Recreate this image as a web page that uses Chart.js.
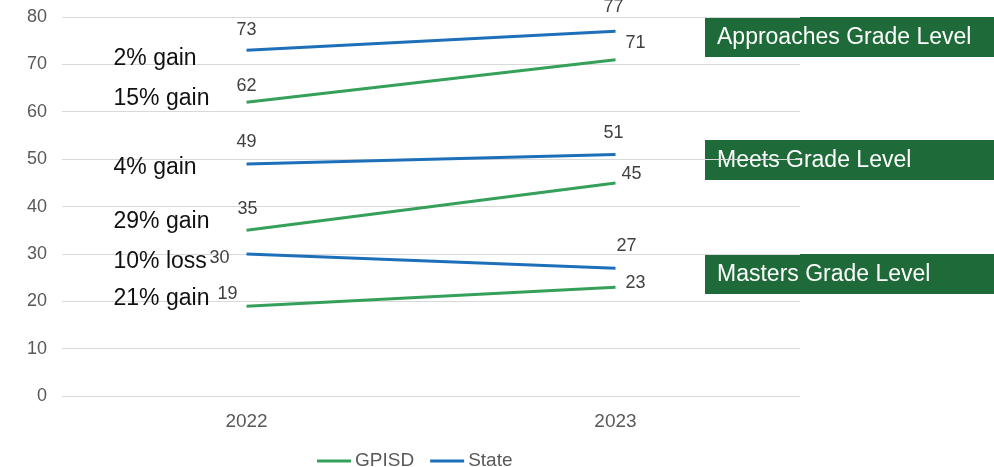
<!DOCTYPE html>
<html>
<head>
<meta charset="utf-8">
<script src="https://cdn.jsdelivr.net/npm/chart.js@4.4.1/dist/chart.umd.min.js"></script>
<style>
    html, body { margin: 0; padding: 0; background: #fff; }
    #wrap { width: 994px; height: 467px; position: relative; }
</style>
</head>
<body>
<div id="wrap"><canvas id="gradeLevelChart"></canvas></div>
<script>
// STAAR grade level results, district vs state
const years = ['2022', '2023'];
const gpisdApproaches = [62, 71];
const stateApproaches = [73, 77];
const gpisdMeets = [35, 45];
const stateMeets = [49, 51];
const gpisdMasters = [19, 23];
const stateMasters = [30, 27];

// change notes, same order as the datasets below
const changeNotes = ['15% gain', '2% gain', '29% gain', '4% gain', '21% gain', '10% loss'];
const levelNames = ['Approaches Grade Level', 'Meets Grade Level', 'Masters Grade Level'];
const levelBoxTops = [80, 54, 30];

const GREEN = '#35a05a';
const BLUE = '#1d6fba';
const FONT = '"Liberation Sans", Arial, sans-serif';

// label placement per point: [dx, dy] from the point centre
const labelOffsets = [
    [[0, -16], [20, -17]],
    [[0, -20], [-2, -24]],
    [[1, -21], [16, -9]],
    [[0, -22], [-2, -21]],
    [[-19, -12], [20, -4]],
    [[-27, 4], [11, -22]]
];
// baseline offset of each change note from its 2022 point
const noteDy = [3, 15, -2, 10, -1, 14];

function line(label, data, color, showInLegend) {
    return {
        label: label,
        data: data,
        borderColor: color,
        backgroundColor: color,
        borderWidth: 3,
        pointRadius: 0,
        pointHoverRadius: 0,
        tension: 0,
        fill: false,
        inLegend: showInLegend
    };
}

const gradeLabels = {
    id: 'gradeLabels',
    beforeDraw(chart) {
        const { ctx, chartArea } = chart;
        const y = chart.scales.y;
        ctx.save();
        levelNames.forEach((name, i) => {
            const top = Math.round(y.getPixelForValue(levelBoxTops[i]));
            ctx.fillStyle = '#1e6b39';
            ctx.fillRect(chartArea.right - 95, top, 320, 40);
            ctx.fillStyle = '#ffffff';
            ctx.font = '23px ' + FONT;
            ctx.textBaseline = 'middle';
            ctx.textAlign = 'left';
            ctx.fillText(name, chartArea.right - 83, top + 21);
        });
        ctx.restore();
    },
    afterDatasetsDraw(chart) {
        const { ctx } = chart;
        ctx.save();
        chart.data.datasets.forEach((ds, i) => {
            const meta = chart.getDatasetMeta(i);
            ctx.font = '18px ' + FONT;
            ctx.fillStyle = '#404040';
            ctx.textAlign = 'center';
            ctx.textBaseline = 'middle';
            meta.data.forEach((pt, j) => {
                const off = labelOffsets[i][j];
                ctx.fillText(String(ds.data[j]), pt.x + off[0], pt.y + off[1]);
            });
            const first = meta.data[0];
            ctx.font = '23px ' + FONT;
            ctx.fillStyle = '#111111';
            ctx.textAlign = 'left';
            ctx.textBaseline = 'alphabetic';
            ctx.fillText(changeNotes[i], first.x - 133, first.y + noteDy[i]);
        });
        ctx.restore();
    },
    afterDraw(chart) {
        // legend: one entry per series colour
        const { ctx, chartArea } = chart;
        const items = chart.data.datasets.filter(ds => ds.inLegend);
        let x = chartArea.left + 255;
        const y = chart.height - 6;
        ctx.save();
        ctx.font = '19px ' + FONT;
        ctx.textBaseline = 'middle';
        ctx.textAlign = 'left';
        items.forEach(ds => {
            ctx.strokeStyle = ds.borderColor;
            ctx.lineWidth = 3;
            ctx.beginPath();
            ctx.moveTo(x, y);
            ctx.lineTo(x + 34, y);
            ctx.stroke();
            ctx.fillStyle = '#595959';
            ctx.fillText(ds.label, x + 38, y);
            x += 38 + ctx.measureText(ds.label).width + 16;
        });
        ctx.restore();
    }
};

new Chart(document.getElementById('gradeLevelChart').getContext('2d'), {
    type: 'line',
    data: {
        labels: years,
        datasets: [
            line('GPISD', gpisdApproaches, GREEN, true),
            line('State', stateApproaches, BLUE, true),
            line('GPISD', gpisdMeets, GREEN, false),
            line('State', stateMeets, BLUE, false),
            line('GPISD', gpisdMasters, GREEN, false),
            line('State', stateMasters, BLUE, false)
        ]
    },
    options: {
        responsive: true,
        maintainAspectRatio: false,
        animation: false,
        layout: { padding: { top: 17, right: 194, bottom: 20, left: 27 } },
        plugins: {
            legend: { display: false },
            tooltip: { enabled: false }
        },
        scales: {
            x: {
                offset: true,
                grid: { display: false, drawTicks: false },
                border: { display: false },
                ticks: { color: '#595959', padding: 14, font: { family: FONT, size: 19 } }
            },
            y: {
                min: 0,
                max: 80,
                grid: { color: '#d9d9d9', lineWidth: 1, drawTicks: false },
                border: { display: false },
                ticks: {
                    stepSize: 10,
                    color: '#595959',
                    padding: 0,
                    font: { family: FONT, size: 18 },
                    // trailing spaces keep the labels clear of the grid
                    // (tick padding would also push the top of the axis down)
                    callback: (value) => value + '   '
                }
            }
        }
    },
    plugins: [gradeLabels]
});
</script>
</body>
</html>
